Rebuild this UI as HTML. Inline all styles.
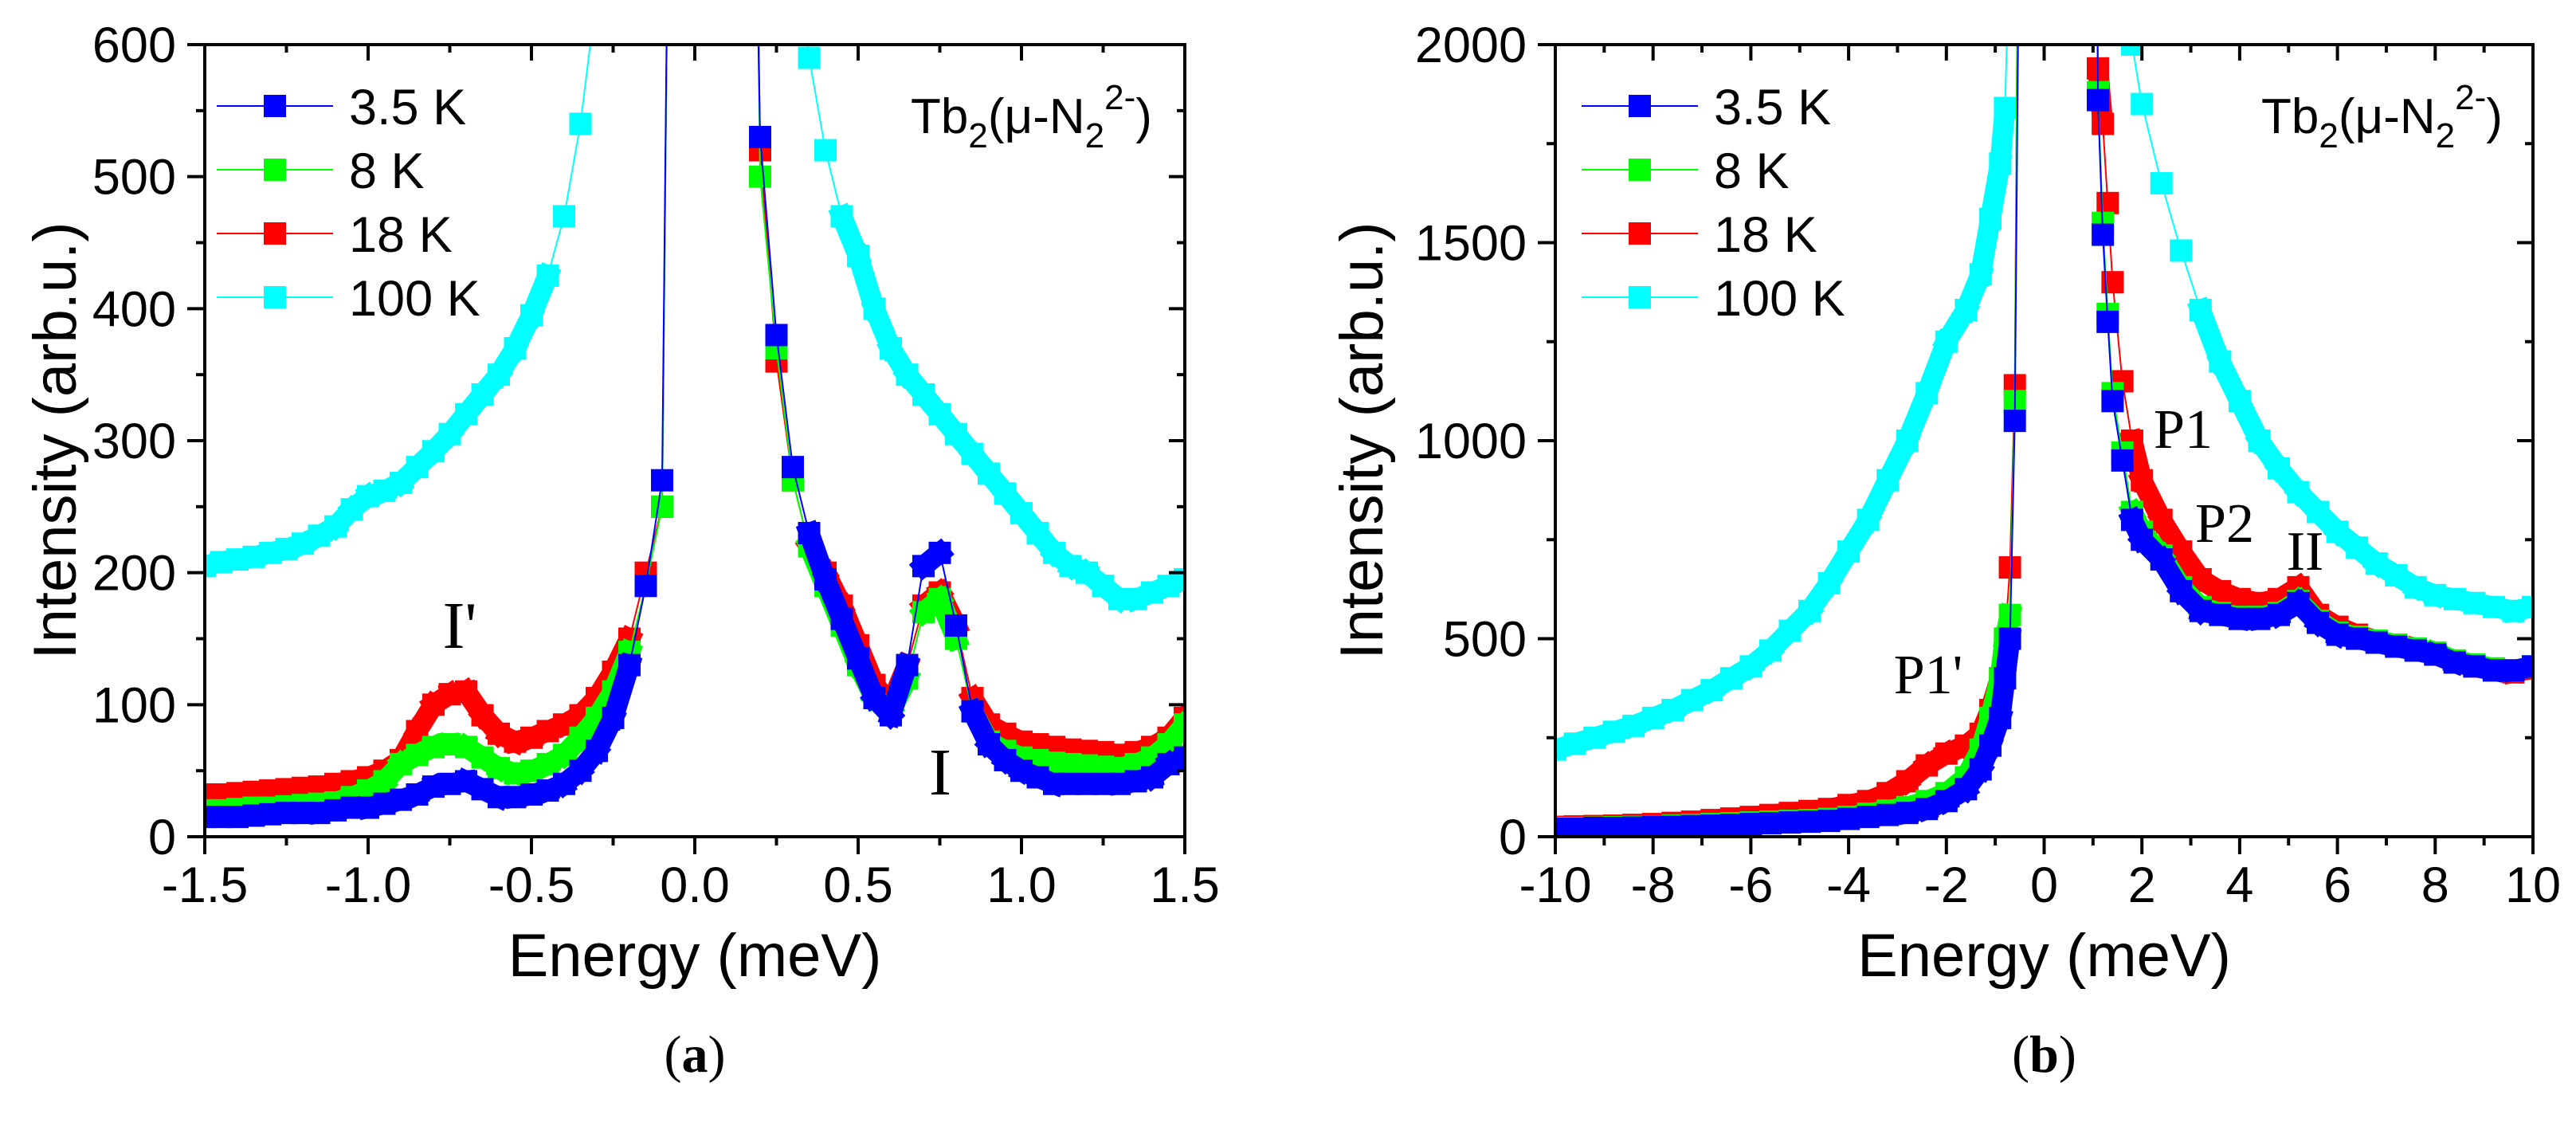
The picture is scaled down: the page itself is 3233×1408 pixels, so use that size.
<!DOCTYPE html>
<html><head><meta charset="utf-8"><style>
html,body{margin:0;padding:0;background:#fff;}
svg{display:block;font-family:"Liberation Sans",sans-serif;}
.ser{font-family:"Liberation Serif",serif;}
</style></head><body>
<svg id="fig" width="3233" height="1408" viewBox="0 0 3233 1408" xmlns="http://www.w3.org/2000/svg">
<defs>
<clipPath id="clipA"><rect x="257" y="56" width="1230" height="994"/></clipPath>
<clipPath id="clipB"><rect x="1952" y="56" width="1227" height="994"/></clipPath>
</defs>
<g id="panelA"></g>
<g id="panelB"></g>
</svg>
<script>
// ---- Panel (a) data ----
const energiesA = [-1.5,-1.45,-1.4,-1.35,-1.3,-1.25,-1.2,-1.15,-1.1,-1.05,-1.0,-0.95,-0.9,-0.85,-0.8,-0.75,-0.7,-0.65,-0.6,-0.55,-0.5,-0.45,-0.4,-0.35,-0.3,-0.25,-0.2,-0.15,-0.1,-0.05,0,0.05,0.1,0.15,0.2,0.25,0.3,0.35,0.4,0.45,0.5,0.55,0.6,0.65,0.7,0.75,0.8,0.85,0.9,0.95,1.0,1.05,1.1,1.15,1.2,1.25,1.3,1.35,1.4,1.45,1.5];
const a100K = [205,208,210,212,215,218,222,228,235,248,258,262,268,280,292,305,320,335,350,370,395,425,470,540,640,900,1500,3000,4000,5000,5000,5000,5000,4000,2000,900,680,590,520,470,440,400,370,350,335,320,305,290,275,260,245,230,215,205,200,190,180,180,185,190,195];
const a18K = [32,32,33,34,35,36,37,38,40,42,45,50,58,80,100,108,110,92,78,72,75,80,85,92,105,125,150,200,250,1500,3000,5000,5000,1500,520,360,270,220,200,175,145,115,100,130,175,185,160,105,85,78,72,70,68,66,65,64,62,64,68,75,90];
const a8K = [20,20,21,22,22,23,24,25,26,30,35,42,55,62,68,70,68,60,52,48,50,55,62,75,90,110,140,190,250,1500,3000,5000,5000,1500,500,370,270,220,190,160,130,105,95,120,170,180,150,95,72,65,60,58,56,55,54,53,52,55,60,70,85];
const a35K = [15,15,15,16,17,18,18,18,20,22,22,25,28,32,38,40,42,36,30,30,32,35,40,50,65,90,130,190,270,1500,3000,5000,5000,1200,530,380,280,230,195,165,135,105,92,130,205,215,160,95,70,58,50,45,40,40,40,40,40,42,45,55,60];
// ---- Panel (b) data ----
const energiesB = [-10,-9.6,-9.2,-8.8,-8.4,-8,-7.6,-7.2,-6.8,-6.4,-6,-5.6,-5.2,-4.8,-4.4,-4,-3.6,-3.2,-2.8,-2.4,-2,-1.6,-1.3,-1.1,-0.9,-0.8,-0.7,-0.6,-0.5,0,0.5,1.0,1.1,1.2,1.3,1.4,1.6,1.8,2.0,2.4,2.8,3.2,3.6,4.0,4.4,4.8,5.2,5.6,6.0,6.4,6.8,7.2,7.6,8.0,8.4,8.8,9.2,9.6,10];
const b100K = [220,235,250,265,280,300,320,345,370,400,430,470,520,570,640,720,800,900,1000,1120,1250,1330,1420,1560,1700,1840,2300,4000,5000,6000,6000,6000,5000,4000,3000,2600,2200,2000,1850,1650,1480,1330,1200,1100,1000,930,870,820,770,730,690,660,630,610,600,590,580,570,580];
const b18K = [25,26,27,28,30,32,35,38,42,46,50,55,60,65,70,80,90,110,140,180,210,230,260,320,400,500,680,1140,3000,6000,6000,4000,1940,1800,1600,1400,1150,1000,900,800,720,650,620,600,590,600,630,560,530,510,495,485,475,460,440,430,420,415,425];
const b8K = [22,22,23,24,25,26,28,30,32,34,36,38,40,42,45,50,58,66,75,90,110,150,220,300,400,500,560,1100,3000,6000,6000,4000,1880,1550,1320,1120,970,820,770,710,630,580,565,555,555,565,595,545,515,505,495,485,475,465,445,435,425,420,430];
const b35K = [20,20,22,22,23,25,25,27,28,30,32,34,36,38,40,45,50,55,60,70,90,120,170,230,300,400,500,1050,2500,6000,6000,4000,1860,1520,1300,1100,950,800,750,700,620,570,560,550,550,560,590,540,510,500,490,480,470,460,440,430,420,420,430];
const legendLabels = ["3.5 K","8 K","18 K","100 K"];
const xTicksA = [-1.5,-1.0,-0.5,0.0,0.5,1.0,1.5];
const xTickLabelsA = ["-1.5","-1.0","-0.5","0.0","0.5","1.0","1.5"];
const yTicksA = [0,100,200,300,400,500,600];
const xTicksB = [-10,-8,-6,-4,-2,0,2,4,6,8,10];
const yTicksB = [0,500,1000,1500,2000];

const NS="http://www.w3.org/2000/svg";
function mk(parent,tag,attrs,text){const e=document.createElementNS(NS,tag);for(const k in attrs)e.setAttribute(k,attrs[k]);if(text!==undefined)e.textContent=text;parent.appendChild(e);return e;}

function panel(g,cfg){
  const {x0,x1,y0,y1,xmin,xmax,ymin,ymax,clip}=cfg;
  const sx=v=>x0+(v-xmin)/(xmax-xmin)*(x1-x0);
  const sy=v=>y1-(v-ymin)/(ymax-ymin)*(y1-y0);
  const data=g.appendChild(document.createElementNS(NS,"g"));
  data.setAttribute('clip-path','url(#'+clip+')');
  const order=[[cfg.s[3],'#00ffff','series-100k'],[cfg.s[2],'#ff0000','series-18k'],[cfg.s[1],'#00ff00','series-8k'],[cfg.s[0],'#0000ff','series-3-5k']];
  order.forEach(([vals,col,nm])=>{
    const sg=document.createElementNS(NS,"g");data.appendChild(sg);
    
    
    const pts=cfg.E.map((e,i)=>sx(e).toFixed(1)+','+sy(Math.min(vals[i],ymax*4)).toFixed(1)).join(' ');
    const pl=mk(sg,'polyline',{points:pts,fill:'none',stroke:col,'stroke-width':2});
    
    
    // dense band segments (thick) where the curve is smooth
    for(let i=0;i<cfg.E.length-1;i++){
      if(vals[i]>ymax*1.05||vals[i+1]>ymax*1.05) continue;
      const xa=sx(cfg.E[i]),ya=sy(vals[i]),xb=sx(cfg.E[i+1]),yb=sy(vals[i+1]);
      if(Math.abs(yb-ya)>70) continue;
      const s=mk(sg,'line',{x1:xa,y1:ya,x2:xb,y2:yb,stroke:col,'stroke-width':26,'stroke-linecap':'square'});
      
      
    }
    cfg.E.forEach((e,i)=>{
      if(vals[i]>ymax*1.1) return;
      const r=mk(sg,'rect',{x:sx(e)-14,y:sy(vals[i])-14,width:28,height:28,fill:col});
      
      
    });
  });
  const fr=mk(g,'rect',{x:x0,y:y0,width:x1-x0,height:y1-y0,fill:'none',stroke:'#000','stroke-width':4});
  
  
  const xt=cfg.xt; const xstep=xt[1]-xt[0];
  xt.forEach((v,i)=>{
    const X=sx(v);
    mk(g,'line',{x1:X,y1:y1,x2:X,y2:y1+22,stroke:'#000','stroke-width':4});
    mk(g,'line',{x1:X,y1:y0,x2:X,y2:y0+20,stroke:'#000','stroke-width':4});
    const t=mk(g,'text',{x:X,y:y1+82,'font-size':63,'text-anchor':'middle'},cfg.xl[i]);
    
    
    if(i<xt.length-1){const m=sx(v+xstep/2);
      mk(g,'line',{x1:m,y1:y1,x2:m,y2:y1+11,stroke:'#000','stroke-width':4});
      mk(g,'line',{x1:m,y1:y0,x2:m,y2:y0+10,stroke:'#000','stroke-width':4});}
  });
  const yt=cfg.yt; const ystep=yt[1]-yt[0];
  yt.forEach((v,i)=>{
    const Y=sy(v);
    mk(g,'line',{x1:x0-22,y1:Y,x2:x0,y2:Y,stroke:'#000','stroke-width':4});
    mk(g,'line',{x1:x1,y1:Y,x2:x1-20,y2:Y,stroke:'#000','stroke-width':4});
    const t=mk(g,'text',{x:x0-36,y:Y+22,'font-size':63,'text-anchor':'end'},String(v));
    
    
    if(i<yt.length-1){const m=sy(v+ystep/2);
      mk(g,'line',{x1:x0-11,y1:m,x2:x0,y2:m,stroke:'#000','stroke-width':4});
      mk(g,'line',{x1:x1,y1:m,x2:x1-10,y2:m,stroke:'#000','stroke-width':4});}
  });
  const cols=['#0000ff','#00ff00','#ff0000','#00ffff'];
  legendLabels.forEach((lab,i)=>{
    const lg=document.createElementNS(NS,"g");g.appendChild(lg);
    
    
    const Y=133+i*80, L=x0+cfg.legOff;
    mk(lg,'line',{x1:L,y1:Y,x2:L+146,y2:Y,stroke:cols[i],'stroke-width':2});
    mk(lg,'rect',{x:L+73-14,y:Y-14,width:28,height:28,fill:cols[i]});
    mk(lg,'text',{x:L+166,y:Y+23,'font-size':63},lab);
  });
  const tb=mk(g,'text',{x:cfg.tbx,y:167,'font-size':62});
  
  
  tb.innerHTML='Tb<tspan dy="18" font-size="44">2</tspan><tspan dy="-18">(μ-N</tspan><tspan dy="18" font-size="44">2</tspan><tspan dy="-48" font-size="44">2-</tspan><tspan dy="30">)</tspan>';
  const xtitle=mk(g,'text',{x:(x0+x1)/2,y:1225,'font-size':76,'text-anchor':'middle'},'Energy (meV)');
  
  
  const ytitle=mk(g,'text',{x:0,y:0,'font-size':76,'text-anchor':'middle',transform:`translate(${cfg.ytx},${(y0+y1)/2}) rotate(-90)`},'Intensity (arb.u.)');
  
  
  const cap=mk(g,'text',{x:(x0+x1)/2,y:1345,'font-size':66,'text-anchor':'middle','class':'ser'});
  
  
  cap.innerHTML='(<tspan font-weight="bold">'+cfg.cap+'</tspan>)';
  cfg.notes.forEach(n=>{
    const t=mk(g,'text',{x:n[1],y:n[2],'font-size':n[3],'class':'ser','text-anchor':'middle'},n[0]);
    
    
  });
}
panel(document.getElementById('panelA'),{x0:257,x1:1487,y0:56,y1:1050,xmin:-1.5,xmax:1.5,ymin:0,ymax:600,clip:'clipA',
  E:energiesA,s:[a35K,a8K,a18K,a100K],xt:xTicksA,xl:xTickLabelsA,yt:yTicksA,legOff:15,tbx:1143,ytx:95,cap:'a',
  notes:[["I'",577,813,84],["I",1180,997,84]]});
panel(document.getElementById('panelB'),{x0:1952,x1:3179,y0:56,y1:1050,xmin:-10,xmax:10,ymin:0,ymax:2000,clip:'clipB',
  E:energiesB,s:[b35K,b8K,b18K,b100K],xt:xTicksB,xl:xTicksB.map(String),yt:yTicksB,legOff:33,tbx:2838,ytx:1735,cap:'b',
  notes:[["P1'",2420,870,70],["P1",2740,562,70],["P2",2792,680,70],["II",2893,715,70]]});
</script>
</body></html>
